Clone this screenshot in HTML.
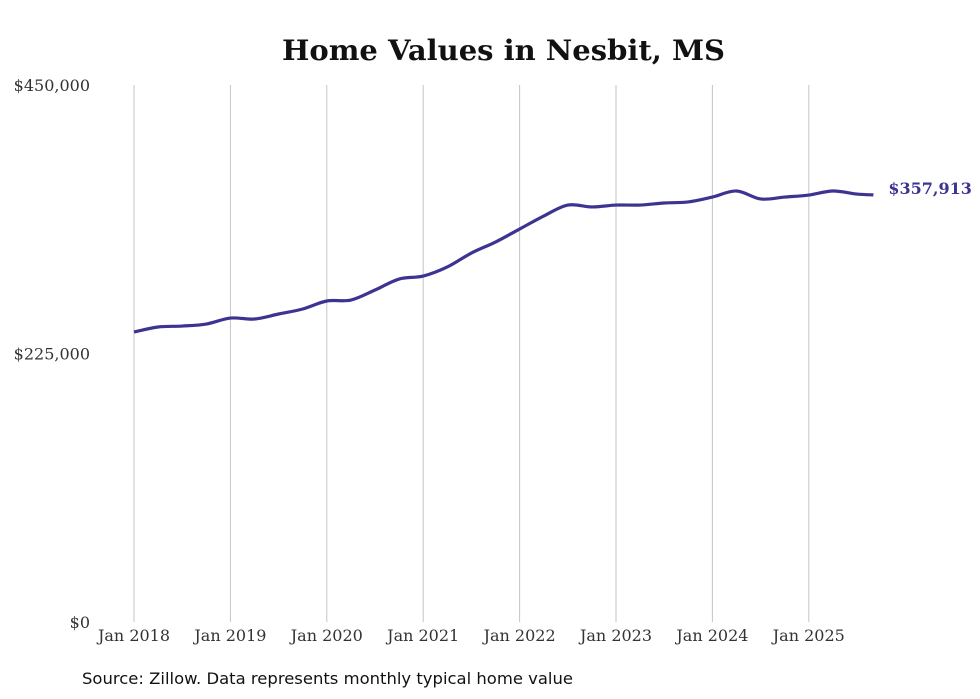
<!DOCTYPE html>
<html><head><meta charset="utf-8"><style>
body{margin:0;background:#fff;width:980px;height:699px;overflow:hidden}
svg{display:block}
</style></head><body>
<svg id="chart" width="980" height="699">
<text x="282" y="60" textLength="443" lengthAdjust="spacingAndGlyphs" font-family="'DejaVu Serif','Liberation Serif',serif" font-weight="bold" font-size="28" fill="#111">Home Values in Nesbit, MS</text>
<g id="grid"></g><g id="yaxis"></g><g id="xaxis"></g><g id="series"></g>
<text x="82" y="684" textLength="491" lengthAdjust="spacingAndGlyphs" font-family="'DejaVu Sans','Liberation Sans',sans-serif" font-size="16" fill="#111">Source: Zillow. Data represents monthly typical home value</text>
</svg>
<script>
const dates=[2018,2018.25,2018.5,2018.75,2019,2019.25,2019.5,2019.75,2020,2020.25,2020.5,2020.75,2021,2021.25,2021.5,2021.75,2022,2022.25,2022.5,2022.75,2023,2023.25,2023.5,2023.75,2024,2024.25,2024.5,2024.75,2025,2025.25,2025.5,2025.67];
const values=[243000,247200,248000,249700,254700,253900,258100,262300,269000,269800,278200,287400,289900,297500,309200,318400,329300,340200,349400,347800,349400,349400,351100,352000,356100,361200,354500,356100,357800,361200,358600,357913];
const yTicks=[0,225000,450000];
const yTickLabels=["$0","$225,000","$450,000"];
const xTicks=[2018,2019,2020,2021,2022,2023,2024,2025];
const xTickLabels=["Jan 2018","Jan 2019","Jan 2020","Jan 2021","Jan 2022","Jan 2023","Jan 2024","Jan 2025"];
const lastLabel="$357,913";
const NS="http://www.w3.org/2000/svg";
const xs=d=>134+(d-2018)*96.4;
const ys=v=>622-v/450000*537;
function mk(t,a,p){const e=document.createElementNS(NS,t);for(const k in a)e.setAttribute(k,a[k]);p.appendChild(e);return e;}
const grid=document.getElementById('grid'),ya=document.getElementById('yaxis'),xa=document.getElementById('xaxis'),se=document.getElementById('series');
xTicks.forEach((d,i)=>{
 const l=mk('line',{x1:xs(d),x2:xs(d),y1:85,y2:622,stroke:'#c4c4c4','stroke-width':1},grid);
 
 
 const t=mk('text',{x:xs(d),y:641,'text-anchor':'middle','font-family':"'DejaVu Serif','Liberation Serif',serif",'font-size':16,fill:'#333'},xa);
 t.textContent=xTickLabels[i];
 
 
});
yTicks.forEach((v,i)=>{
 const t=mk('text',{x:90,y:ys(v)+6,'text-anchor':'end','font-family':"'DejaVu Serif','Liberation Serif',serif",'font-size':16,fill:'#333'},ya);
 t.textContent=yTickLabels[i];
 
 
});
const pts=dates.map((d,i)=>[xs(d),ys(values[i])]);
let p='M'+pts[0][0]+','+pts[0][1];
for(let i=0;i<pts.length-1;i++){
 const p0=pts[Math.max(0,i-1)],p1=pts[i],p2=pts[i+1],p3=pts[Math.min(pts.length-1,i+2)];
 const c1=[p1[0]+(p2[0]-p0[0])/6,p1[1]+(p2[1]-p0[1])/6],c2=[p2[0]-(p3[0]-p1[0])/6,p2[1]-(p3[1]-p1[1])/6];
 p+=` C${c1[0]},${c1[1]} ${c2[0]},${c2[1]} ${p2[0]},${p2[1]}`;
}
const line=mk('path',{d:p,fill:'none',stroke:'#3d3491','stroke-width':3.2,'stroke-linejoin':'round'},se);


const lp=pts[pts.length-1];
const lt=mk('text',{x:lp[0]+15,y:lp[1]-1,'font-family':"'DejaVu Serif','Liberation Serif',serif",'font-weight':'bold','font-size':16,fill:'#3d3491'},se);
lt.textContent=lastLabel;


</script>
</body></html>
